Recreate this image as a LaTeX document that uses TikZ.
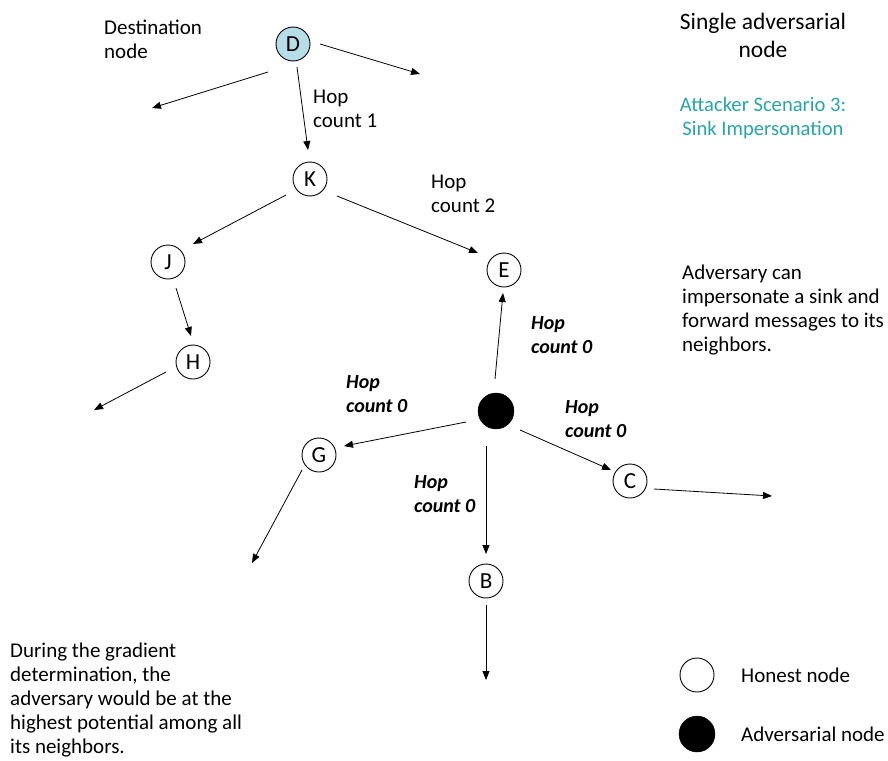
\documentclass[tikz,border=0pt]{standalone}
\usepackage{fontspec}
\setmainfont{Carlito}
\usetikzlibrary{arrows.meta}
\definecolor{nodecyan}{RGB}{183,222,232}
\definecolor{teal2}{RGB}{38,166,166}
\tikzset{
  honest/.style={circle,draw,line width=0.9pt,minimum size=34pt,inner sep=0pt,font=\fontsize{23}{24}\selectfont,fill=white},
  adv/.style={circle,fill=black,draw=black,minimum size=36pt,inner sep=0pt},
  conn/.style={-{Triangle[length=9pt,width=7pt]},line width=0.8pt},
  txt/.style={anchor=base west,inner sep=0pt,align=left,font=\fontsize{21}{24}\selectfont},
  hop0/.style={anchor=base west,inner sep=0pt,align=left,font=\fontsize{20}{24}\selectfont\bfseries\itshape},
}
\begin{document}
\begin{tikzpicture}[x=1pt,y=-1pt]
\useasboundingbox (0,0) rectangle (888,760);
% nodes
\node[honest,fill=nodecyan] (D) at (293,44) {D};
\node[honest] (K) at (310,179) {K};
\node[honest] (J) at (168,262) {J};
\node[honest] (E) at (504,270) {E};
\node[honest] (H) at (193,362) {H};
\node[adv] (A) at (496,411) {};
\node[honest] (G) at (319,455) {G};
\node[honest] (C) at (630,481) {C};
\node[honest] (B) at (486,581) {B};
\node[honest] (L1) at (697,675) {};
\node[adv] (L2) at (697,734) {};
% free ends
\coordinate (d1) at (268,72);   \coordinate (d1e) at (152,108);
\coordinate (d2) at (320,44);   \coordinate (d2e) at (420,74);
\coordinate (dk) at (297,67);   \coordinate (dke) at (308,150);
\coordinate (k1) at (286,195);  \coordinate (k1e) at (193,244);
\coordinate (k2) at (337,196);  \coordinate (k2e) at (478,253);
\coordinate (j1) at (176,288);  \coordinate (j1e) at (191,336);
\coordinate (h1) at (166,372);  \coordinate (h1e) at (94,410);
\coordinate (a1) at (495,379);  \coordinate (a1e) at (503,293);
\coordinate (a2) at (466,422);  \coordinate (a2e) at (344,446);
\coordinate (a3) at (520,430);  \coordinate (a3e) at (611,470);
\coordinate (a4) at (486,446);  \coordinate (a4e) at (486,554);
\coordinate (g1) at (302,470);  \coordinate (g1e) at (252,563);
\coordinate (c1) at (654,489);  \coordinate (c1e) at (772,496);
\coordinate (b1) at (486,605);  \coordinate (b1e) at (486,680);
% connectors
\draw[conn] (d1) -- (d1e);
\draw[conn] (d2) -- (d2e);
\draw[conn] (dk) -- (dke);
\draw[conn] (k1) -- (k1e);
\draw[conn] (k2) -- (k2e);
\draw[conn] (j1) -- (j1e);
\draw[conn] (h1) -- (h1e);
\draw[conn] (a1) -- (a1e);
\draw[conn] (a2) -- (a2e);
\draw[conn] (a3) -- (a3e);
\draw[conn] (a4) -- (a4e);
\draw[conn] (g1) -- (g1e);
\draw[conn] (c1) -- (c1e);
\draw[conn] (b1) -- (b1e);
% texts (base = baseline of last line)
\node[txt] (t1) at (104,59) {Destination\\node};
\node[txt] (t2) at (313,127) {Hop\\count 1};
\node[txt] (t3) at (431,212) {Hop\\count 2};
\node[anchor=base,inner sep=0pt,align=center,font=\fontsize{23.5}{28}\selectfont] (t4) at (763,57) {Single adversarial\\node};
\node[anchor=base,inner sep=0pt,align=center,font=\fontsize{20.6}{24}\selectfont,text=teal2] (t5) at (763,135) {Attacker Scenario 3:\\Sink Impersonation};
\node[txt] (t6) at (682,351) {Adversary can\\impersonate a sink and\\forward messages to its\\neighbors.};
\node[hop0] (h01) at (531,353) {Hop\\count 0};
\node[hop0] (h02) at (346,412) {Hop\\count 0};
\node[hop0] (h03) at (565,437) {Hop\\count 0};
\node[hop0] (h04) at (414,512) {Hop\\count 0};
\node[txt] (t7) at (10,753) {During the gradient\\determination, the\\adversary would be at the\\highest potential among all\\its neighbors.};
\node[txt] (t8) at (741,682) {Honest node};
\node[txt] (t9) at (741,741) {Adversarial node};
\end{tikzpicture}
\end{document}
